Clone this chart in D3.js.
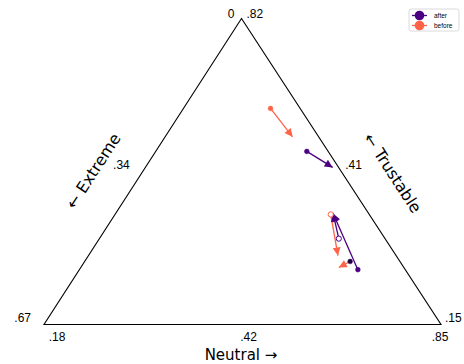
<!DOCTYPE html>
<html>
<head>
<meta charset="utf-8">
<script src="https://cdn.jsdelivr.net/npm/d3@7"></script>
<style>
  html, body { margin: 0; padding: 0; background: #fff; }
  svg { display: block; }
  text { font-family: "Liberation Sans", Arial, sans-serif; fill: #000; }
  .title { font-family: "DejaVu Sans", sans-serif; }
</style>
</head>
<body>
<svg id="chart" width="464" height="364"></svg>
<script>
// ---- data (ternary values: T = Trustable, E = Extreme, N = Neutral) ----
const axisNames = { bottom: "Neutral", left: "Extreme", right: "Trustable" };
const limits = { T: [0.15, 0.82], E: [0.00, 0.67], N: [0.18, 0.85] };
const bottomTicks = [".18", ".42", ".85"];
const leftTicks = ["0", ".34", ".67"];
const rightTicks = [".15", ".41", ".82"];
const seriesNames = ["after", "before"];

// arrows: from -> to
const afterArrows = [
  { from: { T: 0.529, E: 0.036, N: 0.435 }, to: { T: 0.494, E: 0.010, N: 0.496 } },
  { from: { T: 0.270, E: 0.080, N: 0.650 }, to: { T: 0.393, E: 0.060, N: 0.547 } },
  { from: { T: 0.338, E: 0.078, N: 0.584 }, to: { T: 0.393, E: 0.060, N: 0.547 } }
];
const beforeArrows = [
  { from: { T: 0.623, E: 0.050, N: 0.327 }, to: { T: 0.561, E: 0.044, N: 0.395 } },
  { from: { T: 0.391, E: 0.065, N: 0.544 }, to: { T: 0.301, E: 0.098, N: 0.601 } },
  { from: { T: 0.288, E: 0.084, N: 0.628 }, to: { T: 0.275, E: 0.110, N: 0.616 } }
];
const afterFilled = [0, 1];      // arrows whose start dot is filled
const afterOpen = [2];           // arrows whose start is an open circle
const beforeFilled = [0];
const beforeOpen = [1];
const beforeDarkStart = [2];     // start dot drawn in a dark colour

// ---- layout ----
const svg = d3.select("#chart");
const colors = d3.scaleOrdinal().domain(seriesNames).range(["#4b0082", "#ff6347"]);
const apex = [241.5, 18.5], bl = [44, 324.5], br = [441, 324.5];

const wT = d3.scaleLinear().domain(limits.T).range([0, 1]);
const wE = d3.scaleLinear().domain(limits.E).range([0, 1]);
const wN = d3.scaleLinear().domain(limits.N).range([0, 1]);
function proj(p) {
  const a = wT(p.T), b = wE(p.E), c = wN(p.N);
  const s = a + b + c;
  return [(a * apex[0] + b * bl[0] + c * br[0]) / s, (a * apex[1] + b * bl[1] + c * br[1]) / s];
}

// triangle
svg.append("path")
  .attr("d", d3.line()([apex, bl, br, apex]) + "Z")
  .attr("fill", "none").attr("stroke", "#000").attr("stroke-width", 1.1);

const lerp = (p, q, f) => [p[0] + (q[0] - p[0]) * f, p[1] + (q[1] - p[1]) * f];
const frac = d3.scaleLinear().domain([0, 2]).range([0, 1]);

// bottom ticks (Neutral) left -> right
bottomTicks.forEach((t, i) => {
  const f = frac(i), p = lerp(bl, br, f);
  svg.append("text").attr("x", p[0] + 13 - 14 * f).attr("y", p[1] + 16)
    .attr("text-anchor", "middle").attr("font-size", 12).text(t);
});
// left ticks (Extreme) top -> bottom-left
leftTicks.forEach((t, i) => {
  const f = frac(i), p = lerp(apex, bl, f);
  svg.append("text").attr("x", p[0] - (i === 0 ? 7 : 13)).attr("y", p[1] - (i === 0 ? 1 : 3))
    .attr("text-anchor", "end").attr("font-size", 12).text(t);
});
// right ticks (Trustable) bottom-right -> top
rightTicks.forEach((t, i) => {
  const f = frac(i), p = lerp(br, apex, f);
  svg.append("text").attr("x", p[0] + (i === 2 ? 5 : 4)).attr("y", p[1] - (i === 2 ? 1 : 3))
    .attr("text-anchor", "start").attr("font-size", 12).text(t);
});

// axis titles
svg.append("text").attr("class", "title").attr("x", 241).attr("y", 359.5).attr("text-anchor", "middle")
  .attr("font-size", 15).text(axisNames.bottom + " \u2192");
svg.append("text").attr("class", "title").attr("transform", "translate(98,174) rotate(-57)")
  .attr("text-anchor", "middle").attr("font-size", 16).text("\u2190 " + axisNames.left);
svg.append("text").attr("class", "title").attr("transform", "translate(388,176) rotate(57)")
  .attr("text-anchor", "middle").attr("font-size", 16).text("\u2190 " + axisNames.right);

// arrow markers
const defs = svg.append("defs");
seriesNames.forEach(s => {
  defs.append("marker").attr("id", "head-" + s)
    .attr("viewBox", "0 0 10 10").attr("refX", 10).attr("refY", 5)
    .attr("markerWidth", 9).attr("markerHeight", 8).attr("markerUnits", "userSpaceOnUse")
    .attr("orient", "auto")
    .append("path").attr("d", "M0,0 L10,5 L0,10 Z").attr("fill", colors(s));
});

function drawArrows(arr, s) {
  svg.append("g").selectAll("line").data(arr).join("line")
    .attr("x1", d => proj(d.from)[0]).attr("y1", d => proj(d.from)[1])
    .attr("x2", d => proj(d.to)[0]).attr("y2", d => proj(d.to)[1])
    .attr("stroke", colors(s)).attr("stroke-width", 1.3)
    .attr("marker-end", `url(#head-${s})`);
}
drawArrows(beforeArrows, "before");
drawArrows(afterArrows, "after");

function dots(arr, idx, s, fillColor, open) {
  svg.append("g").selectAll("circle").data(idx.map(i => arr[i])).join("circle")
    .attr("cx", d => proj(d.from)[0]).attr("cy", d => proj(d.from)[1])
    .attr("r", open ? 2.6 : 2.4)
    .attr("fill", open ? "#fff" : fillColor)
    .attr("stroke", colors(s)).attr("stroke-width", open ? 1 : 0.5);
}
dots(beforeArrows, beforeFilled, "before", colors("before"), false);
dots(beforeArrows, beforeOpen, "before", colors("before"), true);
dots(beforeArrows, beforeDarkStart, "after", "#1a0030", false);
dots(afterArrows, afterFilled, "after", colors("after"), false);
dots(afterArrows, afterOpen, "after", colors("after"), true);

// legend
const lg = svg.append("g").attr("transform", "translate(409,9)");
lg.append("rect").attr("width", 50).attr("height", 22).attr("rx", 2)
  .attr("fill", "#fff").attr("stroke", "#d0d0d0").attr("stroke-width", 0.8);
seriesNames.forEach((s, i) => {
  const y = 6.5 + i * 10;
  lg.append("line").attr("x1", 3).attr("x2", 18).attr("y1", y).attr("y2", y)
    .attr("stroke", colors(s)).attr("stroke-width", 1.3);
  lg.append("circle").attr("cx", 10.5).attr("cy", y).attr("r", 4.8).attr("fill", colors(s));
  lg.append("text").attr("x", 25).attr("y", y + 2.3).attr("font-size", 6.5).text(s);
});
</script>
</body>
</html>
